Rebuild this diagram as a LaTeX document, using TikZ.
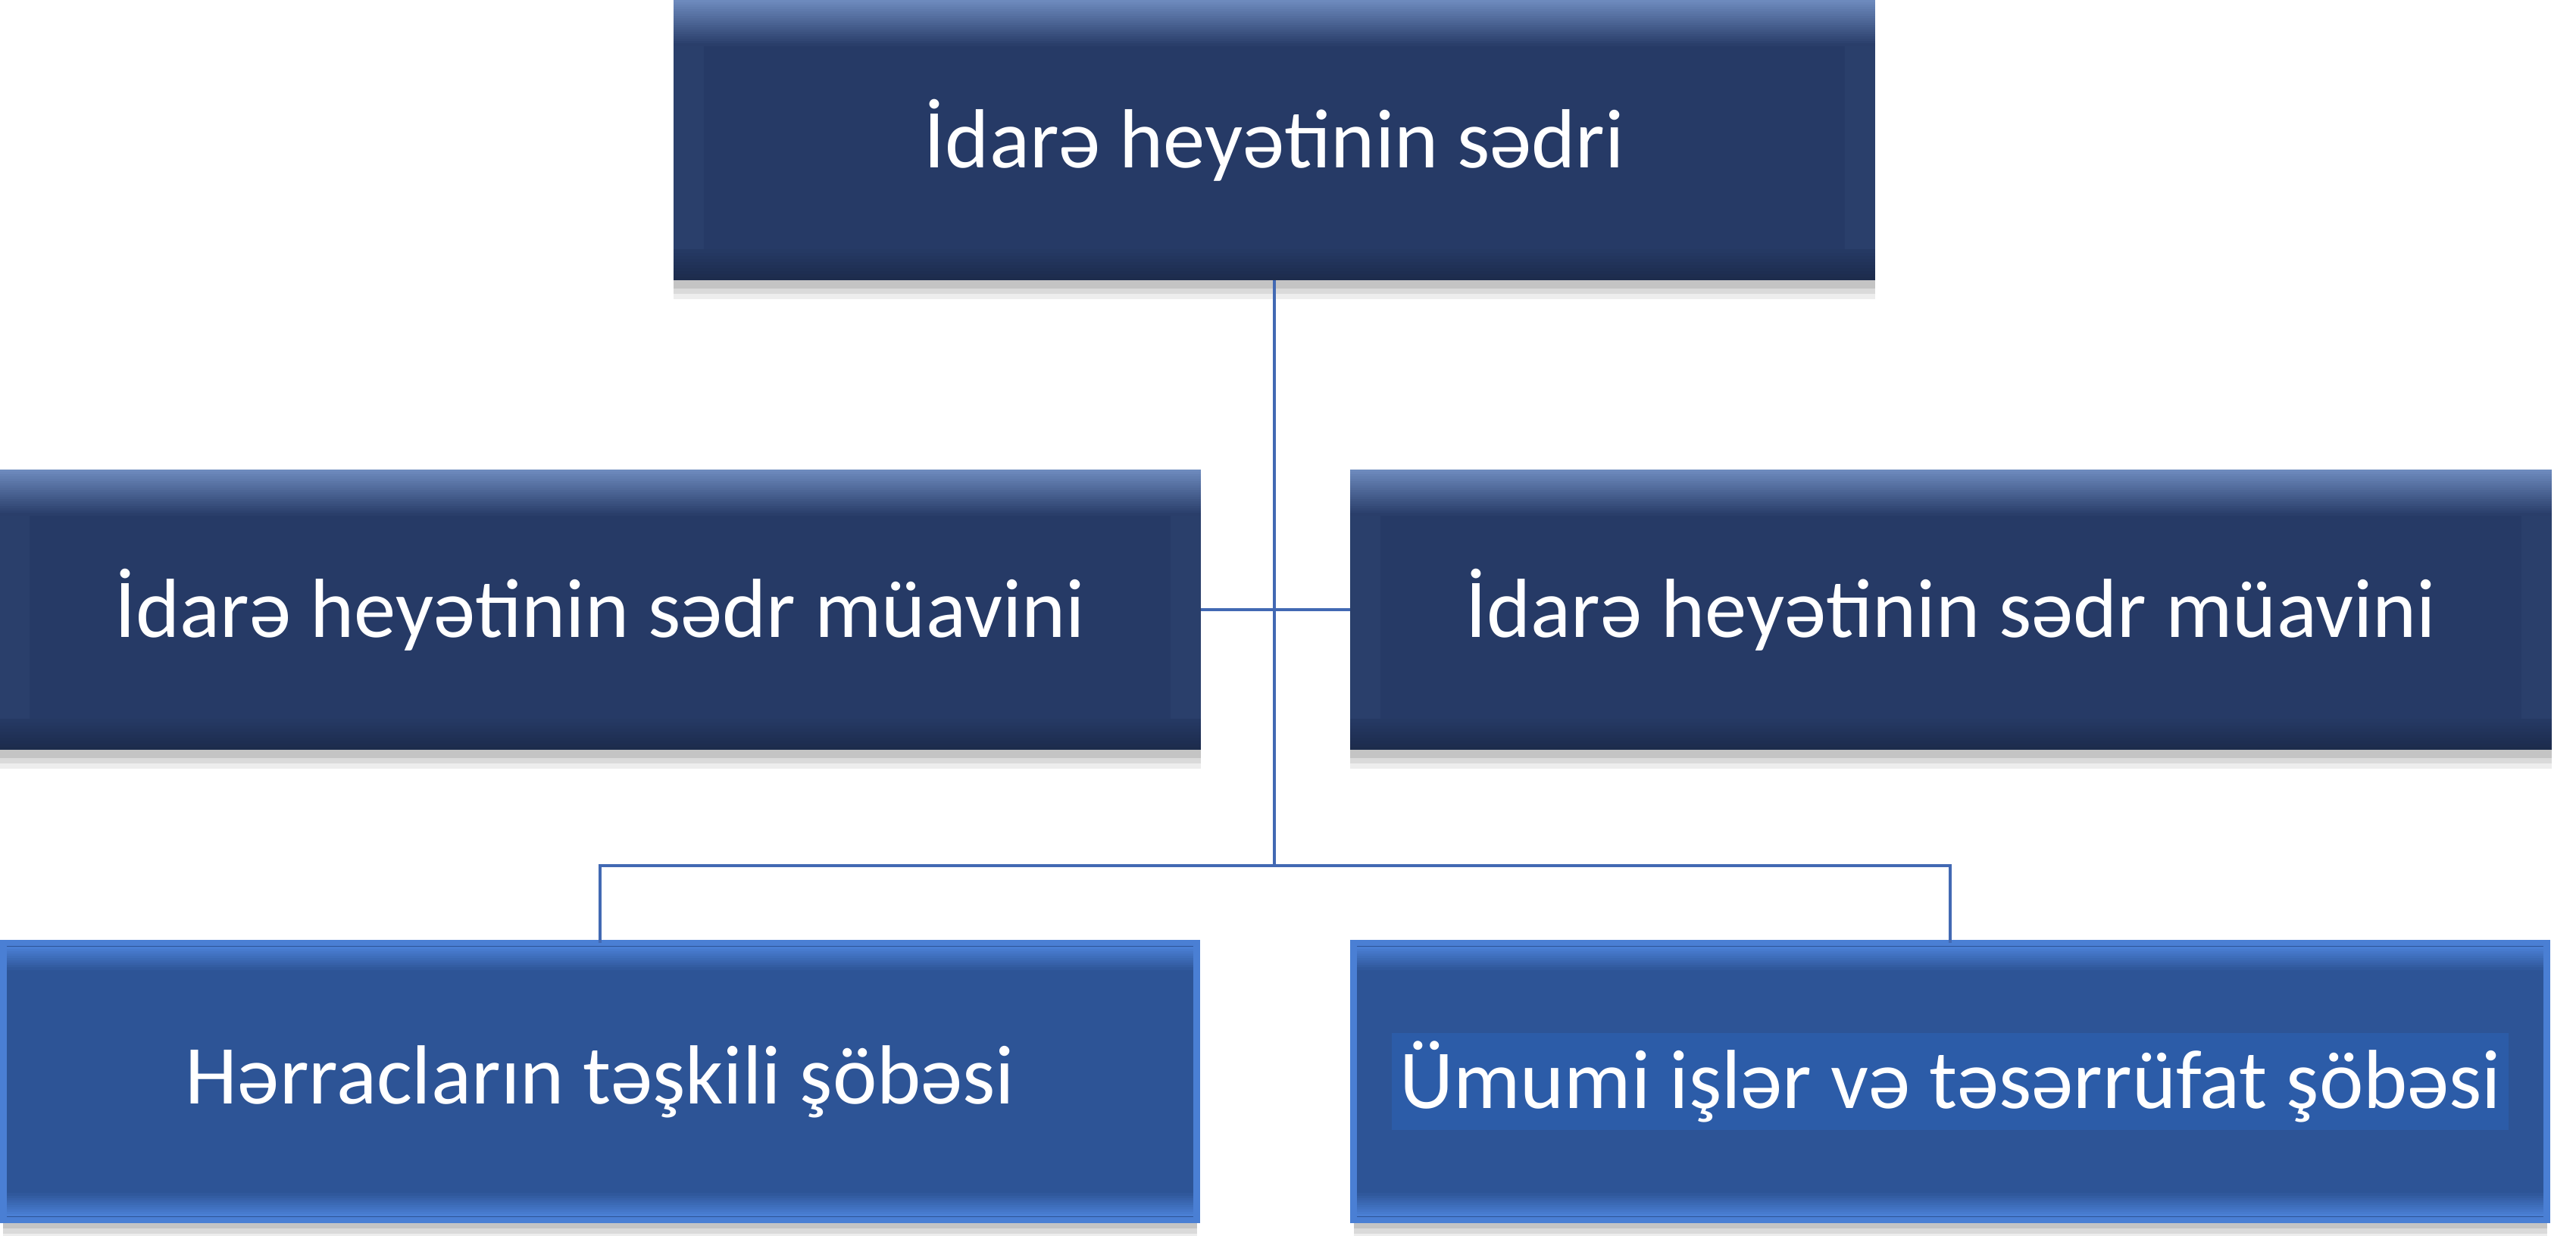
\documentclass[tikz,border=0pt]{standalone}
\usepackage{fontspec}
\setmainfont{Carlito}
\usetikzlibrary{positioning}
\definecolor{navy}{HTML}{263A66}
\definecolor{bevel}{HTML}{6D8ABD}
\definecolor{deptfill}{HTML}{2D5496}
\definecolor{deptedge}{HTML}{4A7FD4}
\definecolor{hilite}{HTML}{2C5CA8}
\definecolor{linkblue}{HTML}{4269B3}
\begin{document}
\begin{tikzpicture}[
					softshadow/.style={
						preaction={fill=black, opacity=0.07, transform canvas={yshift=-7pt}},
						preaction={fill=black, opacity=0.08, transform canvas={yshift=-5pt}},
						preaction={fill=black, opacity=0.1, transform canvas={yshift=-3pt}}},
					boss/.style={rectangle, fill=navy, text=white, minimum width=15.86cm, minimum height=3.7cm, inner sep=0pt, outer sep=0pt,
						font=\fontsize{31.5}{38}\selectfont, softshadow,
						path picture={
							\fill[navy!94!bevel] (path picture bounding box.north west) rectangle ([xshift=0.4cm] path picture bounding box.south west);
							\fill[navy!94!bevel] ([xshift=-0.4cm] path picture bounding box.north east) rectangle (path picture bounding box.south east);
							\foreach \k in {0,...,19}{
								\pgfmathtruncatemacro\mix{100-5*\k}
								\fill[bevel!\mix!navy] ([yshift=-\k*0.03cm] path picture bounding box.north west) rectangle ([yshift=-(\k+1)*0.03cm-0.3pt] path picture bounding box.north east);
							}
							\foreach \k in {0,...,9}{
								\pgfmathtruncatemacro\mix{10*\k}
								\fill[navy!\mix!black!25!navy] ([yshift=\k*0.04cm] path picture bounding box.south west) rectangle ([yshift=(\k+1)*0.04cm+0.3pt] path picture bounding box.south east);
							}
						}},
					dept/.style={rectangle, fill=deptfill, draw=deptedge, line width=2.5pt, text=white, minimum width=15.75cm, minimum height=3.66cm, inner sep=0pt, outer sep=0pt,
						font=\fontsize{31.5}{38}\selectfont, softshadow,
						path picture={
							\foreach \k in {0,...,9}{
								\pgfmathtruncatemacro\mix{100-10*\k}
								\fill[deptedge!\mix!deptfill] ([yshift=-\k*0.03cm-0.05cm] path picture bounding box.north west) rectangle ([yshift=-(\k+1)*0.03cm-0.05cm-0.3pt] path picture bounding box.north east);
								\fill[deptedge!\mix!deptfill] ([yshift=\k*0.03cm+0.05cm] path picture bounding box.south west) rectangle ([yshift=(\k+1)*0.03cm+0.05cm+0.3pt] path picture bounding box.south east);
							}
						}},
					link/.style={draw=linkblue, line width=1.1pt}
				]
				\useasboundingbox (0,0) rectangle (34,-16.32);
				\node[boss] (sedr) at (16.82,-1.85) {İdarə heyətinin sədri};
				\node[boss] (muavinsol) at (7.92,-8.05) {İdarə heyətinin sədr müavini};
				\node[boss] (muavinsag) [right=1.97cm of muavinsol] {İdarə heyətinin sədr müavini};
				\node[dept] (herrac) at (7.92,-14.28) {Hərracların təşkili şöbəsi};
				\node[dept] (umumi) [right=2.07cm of herrac] {\setlength{\fboxsep}{3pt}\colorbox{hilite}{Ümumi işlər və təsərrüfat şöbəsi}};
				\coordinate (bus) at (16.82,-11.43);
				\begin{scope}[link]
				\draw (muavinsol.east) -- (muavinsag.west);
				\draw (sedr.south) -- (bus);
				\draw (herrac.north) |- (bus) -| (umumi.north);
				\end{scope}
				\end{tikzpicture}
\end{document}
